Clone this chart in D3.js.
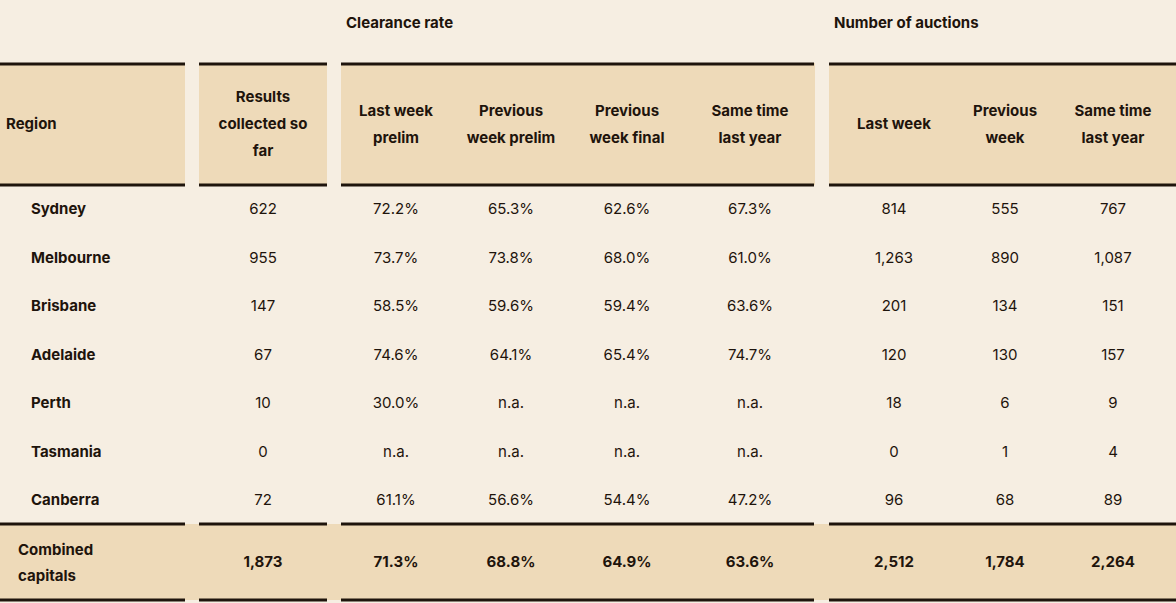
<!DOCTYPE html>
<html>
<head>
<meta charset="utf-8">
<script src="https://cdn.jsdelivr.net/npm/d3@7"></script>
<style>
  body { margin: 0; background: #f6eee2; }
  text { font-family: Inter, "Liberation Sans", sans-serif; fill: #1e140c; }
</style>
</head>
<body>
<div id="table"></div>
<script>
// data
var regions = ["Sydney", "Melbourne", "Brisbane", "Adelaide", "Perth", "Tasmania", "Canberra"];
var collected = ["622", "955", "147", "67", "10", "0", "72"];
var lastWeekPrelim = ["72.2%", "73.7%", "58.5%", "74.6%", "30.0%", "n.a.", "61.1%"];
var prevWeekPrelim = ["65.3%", "73.8%", "59.6%", "64.1%", "n.a.", "n.a.", "56.6%"];
var prevWeekFinal = ["62.6%", "68.0%", "59.4%", "65.4%", "n.a.", "n.a.", "54.4%"];
var sameTimeRate = ["67.3%", "61.0%", "63.6%", "74.7%", "n.a.", "n.a.", "47.2%"];
var auctionsLast = ["814", "1,263", "201", "120", "18", "0", "96"];
var auctionsPrev = ["555", "890", "134", "130", "6", "1", "68"];
var auctionsYear = ["767", "1,087", "151", "157", "9", "4", "89"];
var combined = ["1,873", "71.3%", "68.8%", "64.9%", "63.6%", "2,512", "1,784", "2,264"];
var headers = [["Results", "collected so", "far"], ["Last week", "prelim"], ["Previous", "week prelim"],
  ["Previous", "week final"], ["Same time", "last year"], ["Last week"], ["Previous", "week"], ["Same time", "last year"]];

var width = 1176, height = 603;
var svg = d3.select("#table").append("svg").attr("width", width).attr("height", height);

var colX = [263, 396, 511, 627, 750, 894, 1005, 1113];
var groups = [[0, 185], [199, 327], [341, 814], [829, 1176]];
var y = d3.scalePoint().domain(regions).range([209, 500]);
var columns = [collected, lastWeekPrelim, prevWeekPrelim, prevWeekFinal, sameTimeRate, auctionsLast, auctionsPrev, auctionsYear];

// header band and combined band
svg.append("rect").attr("x", 0).attr("y", 63).attr("width", width).attr("height", 122).attr("fill", "#eedab9");
svg.append("rect").attr("x", 0).attr("y", 524).attr("width", width).attr("height", 76).attr("fill", "#eedab9");

// group rules
[64, 185, 524, 600].forEach(function (ly) {
  svg.selectAll(null).data(groups).enter().append("rect")
    .attr("x", function (d) { return d[0]; })
    .attr("width", function (d) { return d[1] - d[0]; })
    .attr("y", ly - 1.5).attr("height", 3).attr("fill", "#1e140c");
});

// gaps between groups on the bands (background colour)
svg.selectAll(".gap").data(groups.slice(1)).enter().append("rect")
  .attr("x", function (d) { return d[0] - 14; }).attr("width", 14)
  .attr("y", 63).attr("height", 122).attr("fill", "#f6eee2");

svg.append("text").attr("x", 346).attr("y", 28).attr("font-size", 15).attr("font-weight", 700).text("Clearance rate");
svg.append("text").attr("x", 834).attr("y", 28).attr("font-size", 15).attr("font-weight", 700).text("Number of auctions");

svg.append("text").attr("x", 6).attr("y", 129).attr("font-size", 15).attr("font-weight", 700).text("Region");

headers.forEach(function (lines, i) {
  var t = svg.append("text").attr("x", colX[i]).attr("text-anchor", "middle")
    .attr("font-size", 15).attr("font-weight", 700);
  var start = 129 - (lines.length - 1) * 13.5;
  lines.forEach(function (l, j) {
    t.append("tspan").attr("x", colX[i]).attr("y", start + j * 27).text(l);
  });
});

svg.selectAll(".region").data(regions).enter().append("text")
  .attr("x", 31).attr("y", function (d) { return y(d) + 5; })
  .attr("font-size", 15).attr("font-weight", 700).text(function (d) { return d; });

columns.forEach(function (col, i) {
  svg.selectAll(null).data(col).enter().append("text")
    .attr("x", colX[i]).attr("y", function (d, k) { return y(regions[k]) + 5; })
    .attr("text-anchor", "middle").attr("font-size", 15).text(function (d) { return d; });
});

var c = svg.append("text").attr("x", 18).attr("font-size", 15).attr("font-weight", 700);
c.append("tspan").attr("x", 18).attr("y", 555).text("Combined");
c.append("tspan").attr("x", 18).attr("y", 581).text("capitals");

svg.selectAll(".comb").data(combined).enter().append("text")
  .attr("x", function (d, i) { return colX[i]; }).attr("y", 567)
  .attr("text-anchor", "middle").attr("font-size", 15).attr("font-weight", 700)
  .text(function (d) { return d; });
</script>
</body>
</html>
